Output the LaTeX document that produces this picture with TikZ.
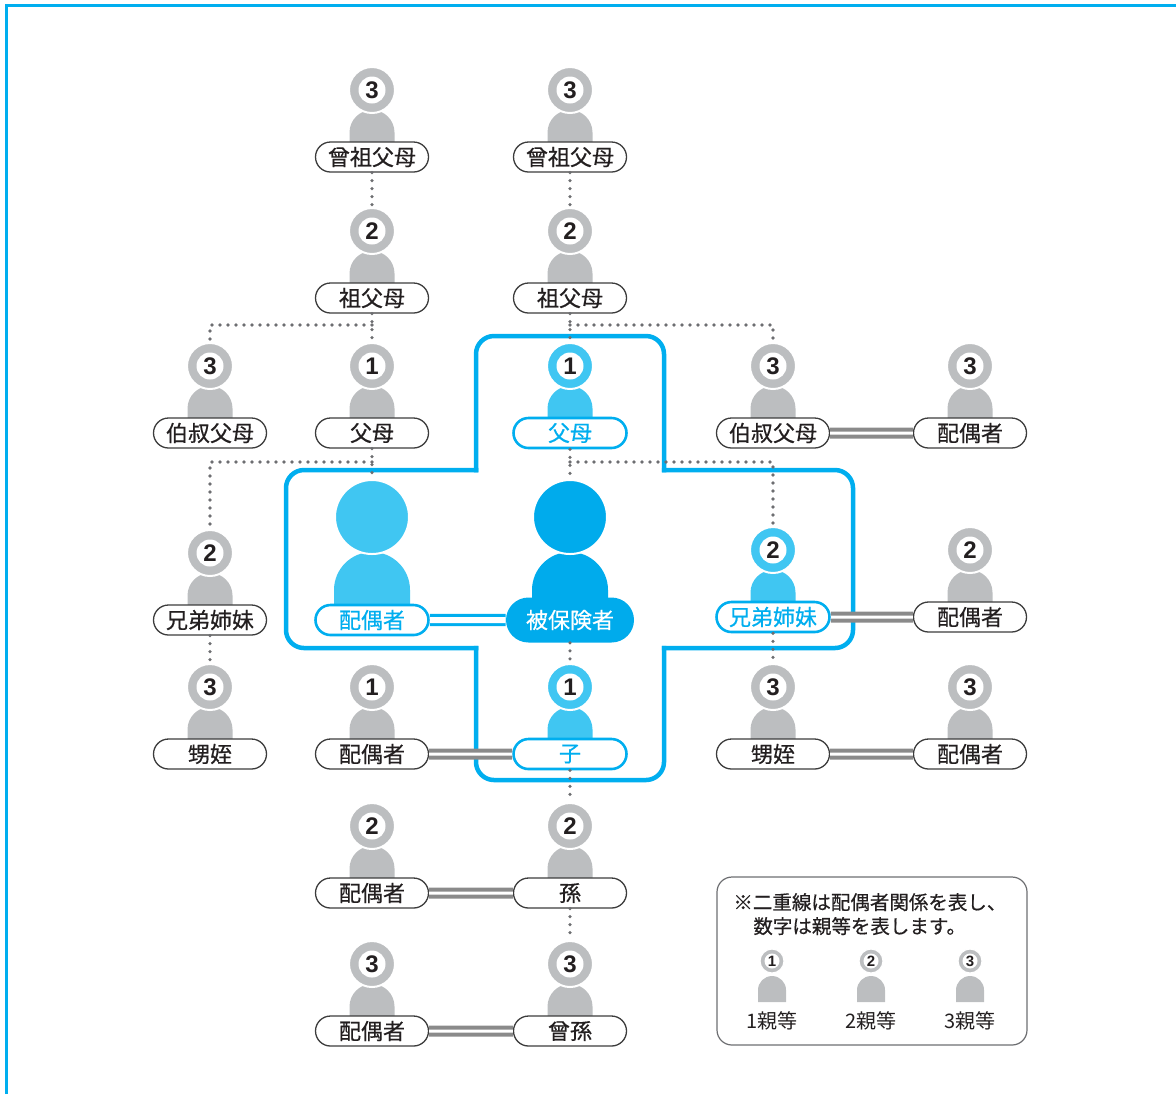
\documentclass[tikz,border=0pt]{standalone}
\usepackage{fontspec}
\setmainfont{Noto Sans CJK JP}
\newfontfamily\jpmed[FakeBold=0.5]{Noto Sans CJK JP}
\newfontfamily\numfont{Liberation Sans}
\usepackage{xcolor}
\usetikzlibrary{shapes.misc}

\definecolor{frameblue}{HTML}{00AEEF}
\definecolor{lightblue}{HTML}{40C6F2}
\definecolor{deepblue}{HTML}{00ABEC}
\definecolor{figgrey}{HTML}{BCBEC0}
\definecolor{dotgrey}{HTML}{6D6E71}
\definecolor{pairgrey}{HTML}{8A8A8A}
\definecolor{ink}{HTML}{231F20}
\definecolor{rimgrey}{HTML}{3C3C3C}
\definecolor{keygrey}{HTML}{6D6E71}

\tikzset{
  lab/.style={rounded rectangle, fill=white, minimum width=56.5pt, minimum height=15pt, inner sep=0pt, font=\jpmed\fontsize{11}{11}\selectfont},
  lab grey/.style={lab, draw=rimgrey, line width=0.65pt, text=ink},
  lab blue/.style={lab, draw=frameblue, line width=1.3pt, text=frameblue},
  insured/.style={rounded rectangle, fill=deepblue, text=white, minimum width=64pt, minimum height=22.5pt, inner sep=0pt, font=\jpmed\fontsize{11}{11}\selectfont},
  body grey/.style={fill=figgrey},
  body blue/.style={fill=lightblue},
  head grey/.style={circle, fill=figgrey, draw=white, line width=1pt, minimum size=23pt, inner sep=0pt},
  head blue/.style={head grey, fill=lightblue},
  digit/.style={circle, fill=white, minimum size=13.5pt, inner sep=0pt, text=ink, font=\numfont\bfseries\fontsize{12}{12}\selectfont},
  kin/.style={dotgrey, line width=1.8pt, line cap=round, dash pattern=on 0pt off 4pt},
  pair/.style={pairgrey, line width=2pt, double=white, double distance=1.5pt},
  pair blue/.style={pair, frameblue, line width=1.6pt, double distance=3pt},
  crossline/.style={frameblue, line width=2.25pt, rounded corners=9pt, line cap=rect},
}

% name, x, y (label centre), digit, text, grey/blue
\newcommand{\person}[6]{%
  \fill[body #6] ({#2-22.5},#3) -- ++(0,-24.5) arc[start angle=180, end angle=0, radius=11.25pt] -- ({#2+22.5},#3) -- cycle;
  \node[head #6] (#1-h) at (#2,{#3-67}) {};
  \node[digit] (#1-n) at (#1-h) {#4};
  \node[lab #6] (#1) at (#2,#3) {#5};
}
% name, x, y (label centre), colour
\newcommand{\bigperson}[4]{%
  \fill[#4] ({#2-38},#3) -- ++(0,-30) arc[start angle=180, end angle=0, radius=19pt] -- ({#2+38},#3) -- cycle;
  \node[circle, fill=#4, draw=white, line width=1pt, minimum size=37pt, inner sep=0pt] (#1-h) at (#2,{#3-103}) {};
}
% name, x, digit, text
\newcommand{\keyperson}[4]{%
  \fill[figgrey] ({#2-14},1002) -- ++(0,-12) arc[start angle=180, end angle=0, radius=7pt] -- ({#2+14},1002) -- cycle;
  \node[circle, fill=figgrey, draw=white, line width=0.6pt, minimum size=12pt, inner sep=0pt] (#1-h) at (#2,961) {};
  \node[circle, fill=white, minimum size=7.5pt, inner sep=0pt, text=ink, font=\numfont\bfseries\fontsize{7.5}{7.5}\selectfont] (#1-n) at (#1-h) {#3};
  \node[text=ink, font=\fontsize{10}{10}\selectfont] (#1) at (#2,1021) {#4};
}

\begin{document}
\begin{tikzpicture}[x=0.5pt, y=-0.5pt]
\useasboundingbox (0,0) rectangle (1176,1094);
\draw[frameblue, line width=1.35pt] (6.3,1094) -- (6.3,5.3) -- (1176,5.3);

\draw[crossline] (476,470) |- (664,336) -- (664,470);
\draw[crossline] (664,470) -- (853,470) -- (853,648) -- (664,648);
\draw[crossline] (664,648) -- (664,780) -- (476,780) -- (476,648);
\draw[crossline] (476,648) -- (286,648) -- (286,470) -- (476,470);

\person{ggpL}{372}{157}{3}{曾祖父母}{grey}
\person{ggpR}{570}{157}{3}{曾祖父母}{grey}
\person{gpL}{372}{298}{2}{祖父母}{grey}
\person{gpR}{570}{298}{2}{祖父母}{grey}
\person{uncL}{210}{433}{3}{伯叔父母}{grey}
\person{parL}{372}{433}{1}{父母}{grey}
\person{parR}{570}{433}{1}{父母}{blue}
\person{uncR}{773}{433}{3}{伯叔父母}{grey}
\person{uncRsp}{970}{433}{3}{配偶者}{grey}
\person{sibL}{210}{620}{2}{兄弟姉妹}{grey}
\person{sibR}{773}{617}{2}{兄弟姉妹}{blue}
\person{sibRsp}{970}{617}{2}{配偶者}{grey}
\person{nephL}{210}{754}{3}{甥姪}{grey}
\person{chsp}{372}{754}{1}{配偶者}{grey}
\person{child}{570}{754}{1}{子}{blue}
\person{nephR}{773}{754}{3}{甥姪}{grey}
\person{nephRsp}{970}{754}{3}{配偶者}{grey}
\person{gcsp}{372}{893}{2}{配偶者}{grey}
\person{gc}{570}{893}{2}{孫}{grey}
\person{ggcsp}{372}{1031}{3}{配偶者}{grey}
\person{ggc}{570}{1031}{3}{曾孫}{grey}

\bigperson{spouse}{372}{620}{lightblue}
\node[lab blue] (spouse) at (372,620) {配偶者};
\bigperson{self}{570}{620}{deepblue}
\node[insured] (self) at (570,620) {被保険者};

\coordinate (jA) at (372,325);
\coordinate (jB) at (372,462);
\coordinate (jC) at (570,325);
\coordinate (jD) at (570,462);
\draw[kin] (ggpL) -- (gpL-h);
\draw[kin] (ggpR) -- (gpR-h);
\draw[kin] (gpL) -- (parL-h);
\draw[kin] (jA) -| (uncL-h);
\draw[kin] (gpR) -- (parR-h);
\draw[kin] (jC) -| (uncR-h);
\draw[kin] (parL) -- (spouse-h);
\draw[kin] (jB) -| (sibL-h);
\draw[kin] (parR) -- (self-h);
\draw[kin] (jD) -| (sibR-h);
\draw[kin] (sibL) -- (nephL-h);
\draw[kin] (sibR) -- (nephR-h);
\draw[kin] (self) -- (child-h);
\draw[kin] (child) -- (gc-h);
\draw[kin] (gc) -- (ggc-h);

\draw[pair] (uncR) -- (uncRsp);
\draw[pair] (sibR) -- (sibRsp);
\draw[pair] (nephR) -- (nephRsp);
\draw[pair] (chsp) -- (child);
\draw[pair] (gcsp) -- (gc);
\draw[pair] (ggcsp) -- (ggc);
\draw[pair blue] (spouse) -- (self);

\draw[keygrey, line width=0.6pt, rounded corners=7.5pt] (717,877) rectangle (1027,1045);
\node[anchor=base west, inner sep=0pt, text=ink, font=\jpmed\fontsize{9.75}{9.75}\selectfont] (keyA) at (733,909.5) {※二重線は配偶者関係を表し、};
\node[anchor=base west, inner sep=0pt, text=ink, font=\jpmed\fontsize{9.75}{9.75}\selectfont] (keyB) at (753,933.5) {数字は親等を表します。};
\keyperson{keyI}{772}{1}{1親等}
\keyperson{keyII}{871}{2}{2親等}
\keyperson{keyIII}{970}{3}{3親等}
\end{tikzpicture}
\end{document}
